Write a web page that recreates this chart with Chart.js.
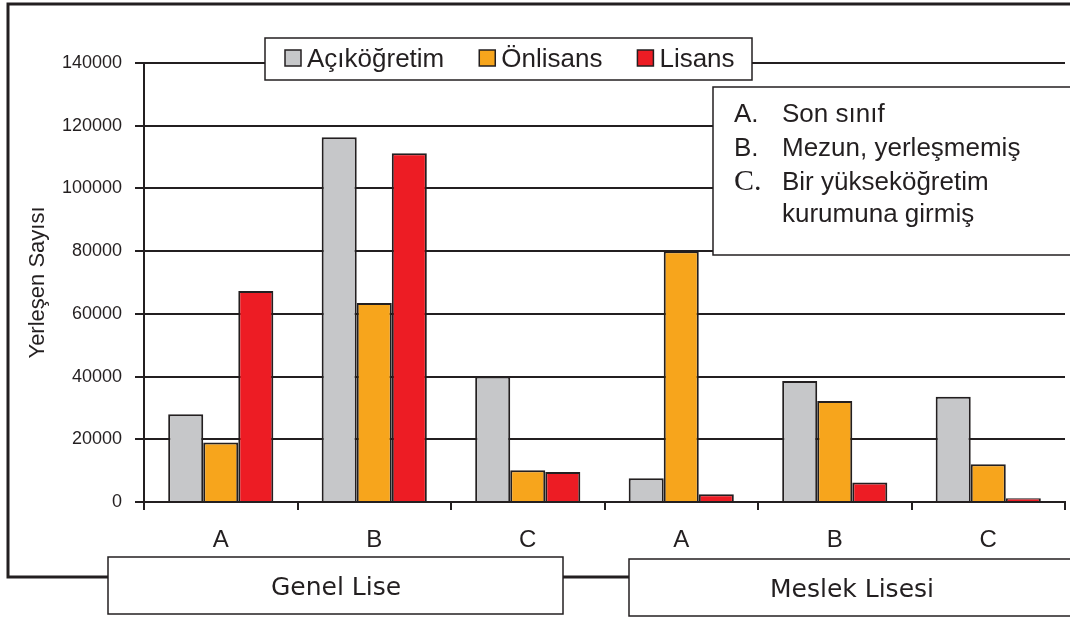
<!DOCTYPE html>
<html lang="tr">
<head>
    <meta charset="UTF-8">
    <title>Yerleşen Sayısı</title>
    <script src="https://cdn.jsdelivr.net/npm/chart.js"></script>
    <style>
        body {
            margin: 0;
            padding: 0;
            background: #ffffff;
        }
        #chart {
            display: block;
        }
    </style>
</head>
<body>
    <canvas id="chart" width="1070" height="617"></canvas>

    <script>
        // data
        const categories = ['A', 'B', 'C', 'A', 'B', 'C'];
        const groups = ['Genel Lise', 'Meslek Lisesi'];
        const acikogretim = [28000, 116300, 40000, 7600, 38600, 33600];
        const onlisans = [19000, 63500, 10100, 80000, 32200, 12000];
        const lisans = [67300, 111200, 9600, 2500, 6200, 1200];
        const yTicks = [0, 20000, 40000, 60000, 80000, 100000, 120000, 140000];
        const notes = [
            ['A.', 'Son sınıf'],
            ['B.', 'Mezun, yerleşmemiş'],
            ['C.', 'Bir yükseköğretim', 'kurumuna girmiş']
        ];

        const ink = '#231f20';
        const sans = "'Liberation Sans', Arial, sans-serif";

        // frame, legend, note box and the two group boxes
        const decorations = {
            id: 'decorations',
            afterDraw(chart) {
                const ctx = chart.ctx;
                ctx.save();
                ctx.strokeStyle = ink;
                ctx.fillStyle = ink;

                // outer frame
                ctx.lineWidth = 3;
                ctx.beginPath();
                ctx.moveTo(1072, 4);
                ctx.lineTo(8, 4);
                ctx.lineTo(8, 577);
                ctx.lineTo(108, 577);
                ctx.moveTo(563, 577);
                ctx.lineTo(629, 577);
                ctx.stroke();

                // legend
                ctx.lineWidth = 1.5;
                ctx.fillStyle = '#ffffff';
                ctx.fillRect(265, 38, 487, 42);
                ctx.strokeRect(265, 38, 487, 42);
                ctx.font = '26px ' + sans;
                ctx.textBaseline = 'alphabetic';
                ctx.textAlign = 'left';
                let x = 285;
                chart.data.datasets.forEach(ds => {
                    ctx.fillStyle = ds.backgroundColor;
                    ctx.fillRect(x, 50, 16, 16);
                    ctx.strokeRect(x, 50, 16, 16);
                    ctx.fillStyle = ink;
                    ctx.fillText(ds.label, x + 22, 67);
                    x += 22 + ctx.measureText(ds.label).width + 35;
                });

                // note box
                ctx.fillStyle = '#ffffff';
                ctx.fillRect(713, 87, 365, 168);
                ctx.strokeRect(713, 87, 365, 168);
                ctx.fillStyle = ink;
                let y = 122;
                notes.forEach(n => {
                    ctx.font = n[0] === 'C.' ? "30px 'Liberation Serif', serif" : '26px ' + sans;
                    ctx.fillText(n[0], 734, y);
                    ctx.font = '26px ' + sans;
                    n.slice(1).forEach(line => {
                        ctx.fillText(line, 782, y);
                        y += 32;
                    });
                    y += 2;
                });

                // group boxes
                const boxes = [[108, 557, 455, 57], [629, 559, 450, 57]];
                ctx.font = "25px 'DejaVu Sans', Verdana, sans-serif";
                ctx.textAlign = 'center';
                ctx.textBaseline = 'middle';
                groups.forEach((g, i) => {
                    const b = boxes[i];
                    ctx.fillStyle = '#ffffff';
                    ctx.fillRect(b[0], b[1], b[2], b[3]);
                    ctx.strokeRect(b[0], b[1], b[2], b[3]);
                    ctx.fillStyle = ink;
                    ctx.fillText(g, i === 0 ? 336 : 852, b[1] + 31);
                });
                ctx.restore();
            }
        };

        const ctx = document.getElementById('chart').getContext('2d');
        const chart = new Chart(ctx, {
            type: 'bar',
            data: {
                labels: categories,
                datasets: [
                    { label: 'Açıköğretim', data: acikogretim, backgroundColor: '#c6c7c9' },
                    { label: 'Önlisans', data: onlisans, backgroundColor: '#f7a51c' },
                    { label: 'Lisans', data: lisans, backgroundColor: '#ed1c24' }
                ]
            },
            options: {
                responsive: false,
                animation: false,
                layout: {
                    padding: { top: 63, right: 5, left: 0, bottom: 0 }
                },
                datasets: {
                    bar: {
                        borderColor: ink,
                        borderWidth: 2,
                        categoryPercentage: 0.685,
                        barPercentage: 1.0
                    }
                },
                plugins: {
                    legend: { display: false },
                    tooltip: { enabled: false }
                },
                scales: {
                    x: {
                        offset: true,
                        afterFit: s => { s.height = 115; },
                        grid: {
                            offset: true,
                            drawOnChartArea: false,
                            color: ink,
                            lineWidth: 2,
                            tickLength: 8
                        },
                        border: { color: ink, width: 2 },
                        ticks: {
                            color: ink,
                            padding: 16,
                            font: { family: sans, size: 24 }
                        }
                    },
                    y: {
                        min: 0,
                        max: 140000,
                        afterFit: s => { s.width = 144; },
                        afterBuildTicks: s => { s.ticks = yTicks.map(v => ({ value: v })); },
                        grid: {
                            color: ink,
                            lineWidth: 2,
                            tickLength: 9
                        },
                        border: { color: ink, width: 2 },
                        ticks: {
                            color: ink,
                            padding: 13,
                            font: { family: sans, size: 18 },
                            callback: v => String(v)
                        },
                        title: {
                            display: true,
                            text: 'Yerleşen Sayısı',
                            color: ink,
                            padding: 25,
                            font: { family: sans, size: 22 }
                        }
                    }
                }
            },
            plugins: [decorations]
        });
    </script>
</body>
</html>
